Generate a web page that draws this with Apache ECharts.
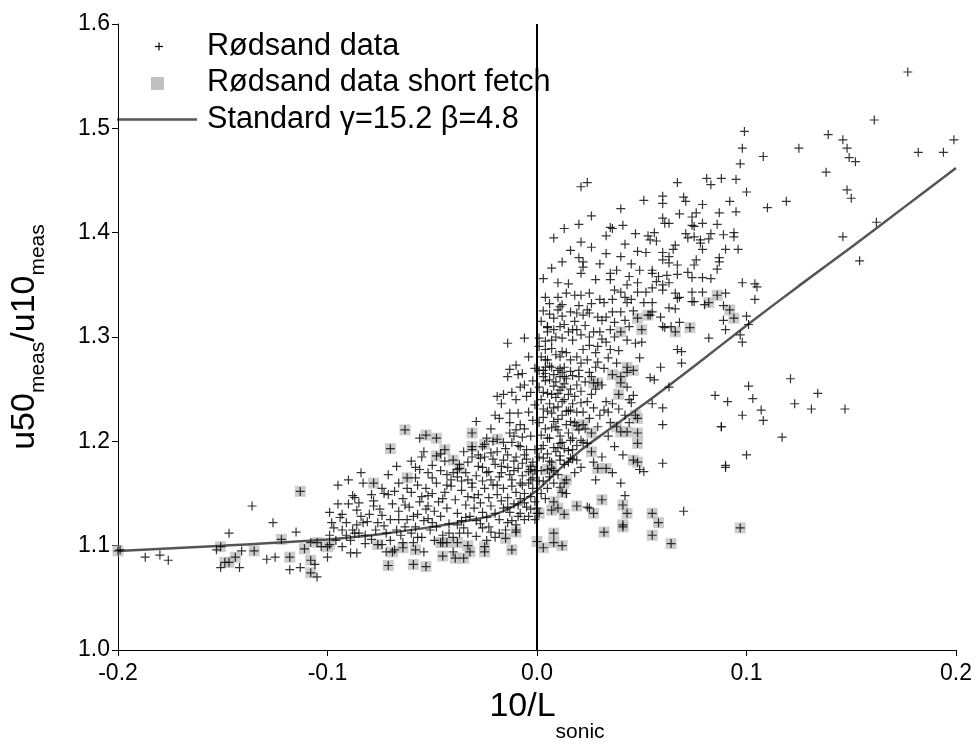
<!DOCTYPE html>
<html><head><meta charset="utf-8">
<script src="https://cdn.jsdelivr.net/npm/echarts@6/dist/echarts.min.js"></script>
<style>html,body{margin:0;padding:0;background:#fff}#c{width:976px;height:753px}</style>
</head><body><div id="c"></div>
<script>
const xTicks = [-0.2, -0.1, 0.0, 0.1, 0.2];
const yTicks = [1.0, 1.1, 1.2, 1.3, 1.4, 1.5, 1.6];
const legendNames = ['Rødsand data', 'Rødsand data short fetch', 'Standard \u03b3=15.2 \u03b2=4.8'];

const standardX = [-0.2,-0.15,-0.1,-0.075,-0.05,-0.03,-0.02,-0.01,0,0.01,0.02,0.03,0.05,0.075,0.1,0.125,0.15,0.175,0.2];
const standardY = [1.095,1.100,1.106,1.111,1.118,1.125,1.130,1.139,1.153,1.172,1.190,1.205,1.234,1.272,1.311,1.349,1.386,1.424,1.462];

const shortFetch = [
[-0.200,1.095],[-0.151,1.099],[-0.149,1.084],[-0.147,1.084],[-0.144,1.089],[-0.135,1.095],[-0.122,1.106],[-0.113,1.152],[-0.118,1.089],[-0.111,1.097],[-0.108,1.086],[-0.108,1.074],[-0.105,1.103],[-0.100,1.099],
[-0.063,1.211],[-0.070,1.193],[-0.053,1.206],[-0.048,1.203],[-0.048,1.186],[-0.062,1.165],[-0.078,1.160],
[-0.071,1.081],[-0.059,1.082],[-0.053,1.080],[-0.099,1.101],[-0.076,1.101],[-0.069,1.094],[-0.064,1.098],[-0.058,1.096],[-0.046,1.103],
[-0.031,1.208],[-0.019,1.202],[-0.025,1.197],[-0.031,1.195],[-0.044,1.192],[-0.040,1.182],[-0.037,1.174],[-0.003,1.173],
[-0.045,1.103],[-0.043,1.103],[-0.038,1.103],[-0.033,1.100],[-0.032,1.094],[-0.039,1.088],[-0.035,1.088],[-0.025,1.099],[-0.025,1.094],[-0.012,1.096],[0.000,1.104],[0.003,1.098],[-0.015,1.107],[-0.010,1.113],[-0.045,1.090],
[0.027,1.256],[0.029,1.256],[0.040,1.256],[0.039,1.245],[0.047,1.225],[0.048,1.222],[0.019,1.215],[0.022,1.216],[0.038,1.214],[0.040,1.209],[0.043,1.209],[0.048,1.208],[0.048,1.198],[0.026,1.208],[0.026,1.190],[0.046,1.182],[0.048,1.180],[0.005,1.173],[0.007,1.174],[0.029,1.174],[0.033,1.174],[0.013,1.160],[0.014,1.163],
[0.012,1.151],[0.008,1.142],[0.007,1.134],[0.010,1.136],[0.001,1.131],[0.013,1.130],[0.019,1.138],[0.027,1.131],[0.031,1.144],[0.041,1.139],[0.043,1.131],[0.055,1.131],[0.058,1.122],[0.032,1.113],[0.041,1.120],[0.041,1.118],[0.055,1.110],[0.064,1.102],[0.008,1.112],[0.008,1.103],[0.012,1.100],[0.097,1.117],
[0.048,1.318],[0.053,1.321],[0.050,1.307],[0.040,1.305],[0.043,1.271],[0.046,1.268],[0.036,1.264],[0.040,1.262],
[0.086,1.340],[0.082,1.333],[0.092,1.326],[0.094,1.318],[0.066,1.305],[0.073,1.309]
];

const rodsand = [
[-0.199,1.096],[-0.187,1.089],[-0.180,1.091],[-0.176,1.086],[-0.153,1.096],[-0.147,1.112],[-0.151,1.079],[-0.142,1.079],[-0.141,1.095],[-0.136,1.138],[-0.129,1.087],[-0.126,1.122],[-0.125,1.089],[-0.115,1.113],[-0.118,1.077],[-0.113,1.079],[-0.106,1.082],[-0.105,1.070],[-0.108,1.103],[-0.103,1.099],[-0.100,1.089],[-0.099,1.132],[-0.098,1.122],[-0.099,1.110],
[-0.088,1.148],[-0.087,1.146],[-0.079,1.149],[-0.073,1.150],[-0.071,1.149],[-0.060,1.151],[-0.085,1.141],[-0.086,1.134],[-0.093,1.130],[-0.078,1.138],[-0.080,1.130],[-0.074,1.129],[-0.081,1.123],[-0.083,1.122],[-0.076,1.122],[-0.093,1.115],[-0.088,1.115],[-0.087,1.112],[-0.085,1.112],[-0.089,1.105],[-0.093,1.099],[-0.082,1.102],[-0.079,1.106],[-0.074,1.101],[-0.072,1.094],[-0.089,1.093],[-0.086,1.093],[-0.068,1.096],[-0.064,1.103],[-0.054,1.094],[-0.059,1.103],
[-0.056,1.203],[-0.055,1.185],[-0.058,1.175],[-0.056,1.173],[-0.050,1.177],[-0.058,1.165],[-0.050,1.165],[-0.074,1.155],
[-0.069,1.140],[-0.066,1.133],[-0.064,1.145],[-0.062,1.125],[-0.061,1.137],[-0.058,1.118],[-0.057,1.130],[-0.056,1.142],[-0.055,1.108],[-0.054,1.124],[-0.053,1.135],[-0.052,1.148],[-0.051,1.115],[-0.067,1.115],[-0.065,1.110],[-0.070,1.125],[-0.072,1.112],[-0.063,1.118],[-0.060,1.112],[-0.096,1.105],[-0.091,1.122],[-0.084,1.128],[-0.077,1.115],[-0.075,1.135],[-0.068,1.152],[-0.066,1.160],[-0.062,1.155],[-0.057,1.158],[-0.053,1.155],[-0.083,1.160],[-0.095,1.140],
[-0.095,1.158],[-0.090,1.163],[-0.084,1.170],[-0.071,1.168],[-0.067,1.176],[-0.060,1.181],[-0.054,1.190],[-0.052,1.170],[-0.046,1.188],
[-0.078,1.143],[-0.073,1.119],[-0.070,1.105],[-0.066,1.125],[-0.063,1.139],[-0.059,1.128],[-0.057,1.108],[-0.055,1.147],[-0.052,1.138],[-0.050,1.122],[-0.097,1.117],[-0.094,1.127],[-0.091,1.110],[-0.086,1.120],[-0.082,1.110],[-0.090,1.140],
[-0.043,1.168],[-0.038,1.166],[-0.038,1.173],[-0.035,1.190],[-0.031,1.192],[-0.031,1.185],[-0.027,1.184],[-0.026,1.195],[-0.021,1.200],[-0.022,1.189],[-0.026,1.175],[-0.024,1.170],[-0.022,1.163],[-0.031,1.160],[-0.033,1.163],[-0.013,1.208],[-0.010,1.211],[-0.007,1.204],[-0.008,1.195],[-0.005,1.192],[-0.010,1.185],[-0.007,1.179],[-0.014,1.175],[-0.018,1.166],[-0.012,1.163],[-0.008,1.160],[-0.003,1.163],[-0.014,1.187],[-0.016,1.182],[-0.029,1.219],[-0.019,1.243],[-0.016,1.245],[-0.006,1.254],[-0.010,1.240],[-0.005,1.243],[-0.017,1.236],[-0.013,1.227],[-0.009,1.227],[-0.020,1.225],[-0.018,1.222],[-0.013,1.218],[-0.008,1.216],
[-0.014,1.294],[-0.006,1.299],[-0.010,1.273],[-0.013,1.269],[-0.009,1.264],[-0.007,1.265],[-0.014,1.262],[0.001,1.299],[0.001,1.291],[0.005,1.309],[0.004,1.278],[0.004,1.271],
[-0.037,1.112],[-0.033,1.112],[-0.026,1.117],[-0.022,1.113],[-0.020,1.108],[-0.015,1.115],[-0.014,1.122],[-0.010,1.120],[-0.010,1.115],[-0.040,1.094],[-0.008,1.131],[-0.004,1.128],[0.000,1.131],[0.000,1.136],[-0.006,1.141],
[-0.047,1.142],[-0.046,1.128],[-0.044,1.151],[-0.043,1.136],[-0.042,1.121],[-0.041,1.157],[-0.039,1.144],[-0.038,1.131],[-0.036,1.153],[-0.036,1.124],[-0.034,1.139],[-0.033,1.147],[-0.032,1.128],[-0.031,1.156],[-0.030,1.136],[-0.029,1.124],[-0.028,1.149],[-0.027,1.141],[-0.026,1.132],[-0.025,1.155],[-0.024,1.127],[-0.023,1.146],[-0.022,1.138],[-0.021,1.158],[-0.020,1.131],[-0.019,1.149],[-0.018,1.125],[-0.017,1.143],[-0.016,1.136],[-0.016,1.155],[-0.014,1.146],[-0.013,1.132],[-0.012,1.157],[-0.011,1.140],[-0.010,1.151],[-0.009,1.128],[-0.008,1.145],[-0.007,1.158],[-0.006,1.150],[-0.005,1.137],[-0.004,1.160],[-0.003,1.147],[-0.002,1.155],[-0.001,1.142],[-0.048,1.118],[-0.045,1.110],[-0.040,1.108],[-0.035,1.117],[-0.029,1.109],[-0.024,1.105],
[-0.048,1.160],[-0.046,1.172],[-0.044,1.181],[-0.041,1.163],[-0.037,1.178],[-0.034,1.170],[-0.029,1.167],[-0.028,1.176],[-0.020,1.178],[-0.019,1.190],[-0.017,1.170],[-0.011,1.172],[-0.009,1.196],[-0.006,1.187],[-0.004,1.171],[-0.002,1.180],[-0.001,1.192],[-0.003,1.205],[-0.012,1.199],[-0.024,1.203],
[-0.028,1.187],[-0.026,1.162],[-0.023,1.171],[-0.021,1.183],[-0.019,1.158],[-0.017,1.176],[-0.015,1.193],[-0.013,1.168],[-0.011,1.181],[-0.009,1.174],[-0.007,1.167],[-0.005,1.183],[-0.003,1.176],[-0.002,1.165],[-0.001,1.172],[-0.016,1.199],[-0.011,1.205],[-0.006,1.212],[-0.002,1.220],[-0.004,1.228],[-0.001,1.235],[-0.003,1.247],[-0.002,1.258],[-0.001,1.270],[-0.004,1.281],[-0.008,1.252],[-0.012,1.247],[-0.022,1.212],[-0.025,1.185],[-0.033,1.180],[-0.036,1.162],[-0.040,1.170],[-0.043,1.158],[-0.045,1.145],[-0.049,1.133],[-0.050,1.150],[-0.052,1.126],[-0.049,1.105],[-0.042,1.112],[-0.038,1.120],[-0.034,1.127],[-0.030,1.146],[-0.027,1.121],[-0.023,1.118],[-0.018,1.112],[-0.014,1.137],[-0.012,1.124],[-0.009,1.139],[-0.006,1.125],[-0.003,1.135],[-0.001,1.125],
[0.001,1.252],[0.002,1.240],[0.003,1.231],[0.004,1.258],[0.005,1.246],[0.006,1.236],[0.007,1.227],[0.008,1.253],[0.009,1.242],[0.010,1.233],[0.011,1.249],[0.012,1.238],[0.013,1.255],[0.014,1.229],[0.015,1.245],[0.017,1.236],[0.016,1.219],[0.010,1.211],
[0.001,1.218],[0.002,1.206],[0.003,1.196],[0.004,1.212],[0.005,1.188],[0.006,1.203],[0.007,1.180],[0.008,1.194],[0.009,1.214],[0.011,1.186],[0.012,1.199],[0.013,1.178],[0.015,1.191],[0.017,1.183],[0.018,1.170],[0.019,1.196],
[0.001,1.185],[0.002,1.172],[0.003,1.162],[0.005,1.155],[0.006,1.166],[0.004,1.145],[0.008,1.160],[0.010,1.168],[0.014,1.150],[0.002,1.150],
[0.001,1.162],[0.002,1.193],[0.003,1.223],[0.003,1.247],[0.004,1.265],[0.005,1.229],[0.005,1.203],[0.006,1.181],[0.006,1.259],[0.007,1.245],[0.007,1.213],[0.008,1.172],[0.008,1.232],[0.009,1.257],[0.009,1.190],[0.010,1.221],[0.010,1.246],[0.011,1.262],[0.011,1.205],[0.012,1.225],[0.012,1.252],[0.013,1.193],[0.013,1.240],[0.014,1.216],[0.014,1.260],[0.015,1.180],[0.015,1.229],[0.016,1.250],[0.016,1.201],[0.017,1.263],[0.018,1.218],[0.018,1.243],[0.019,1.254],[0.019,1.228],[0.020,1.211],[0.020,1.262],[0.021,1.248],[0.022,1.228],[0.023,1.257],[0.023,1.212],[0.024,1.238],[0.025,1.222],[0.026,1.262],[0.027,1.232],[0.028,1.250],[0.029,1.214],
[0.001,1.268],[0.002,1.281],[0.003,1.262],[0.006,1.272],[0.008,1.264],[0.009,1.283],[0.011,1.270],[0.013,1.262],[0.007,1.289],[0.004,1.296],[0.002,1.315],[0.006,1.322],[0.009,1.300],
[0.003,1.325],[0.004,1.338],[0.006,1.332],[0.008,1.318],[0.010,1.338],[0.012,1.320],[0.014,1.342],[0.015,1.305],[0.018,1.315],[0.020,1.330],[0.023,1.311],[0.026,1.332],[0.027,1.305],[0.028,1.285],[0.031,1.298],[0.034,1.280],[0.037,1.300],[0.039,1.287],[0.040,1.343],[0.044,1.310],[0.046,1.325],[0.048,1.352],[0.051,1.333],[0.050,1.295],[0.003,1.356],[0.007,1.366],[0.012,1.372],[0.016,1.383],[0.008,1.395],[0.013,1.404],[0.030,1.370],[0.033,1.380],[0.045,1.370],[0.028,1.355],
[0.030,1.225],[0.035,1.218],[0.037,1.195],[0.039,1.231],[0.041,1.187],[0.044,1.218],[0.044,1.240],[0.034,1.205],[0.031,1.185],[0.036,1.170],[0.040,1.160],[0.027,1.180],
[0.031,1.254],[0.043,1.252],[0.046,1.244],[0.045,1.237],[0.026,1.245],[0.021,1.237],[0.033,1.238],[0.036,1.236],[0.034,1.228],[0.032,1.230],[0.016,1.230],[0.008,1.219],[0.042,1.225],[0.015,1.208],[0.017,1.203],[0.021,1.201],[0.022,1.199],[0.011,1.198],[0.024,1.198],[0.010,1.194],[0.017,1.192],[0.016,1.184],[0.019,1.182],[0.011,1.182],[0.003,1.184],[0.021,1.175],[0.049,1.173],[0.051,1.171],[0.028,1.163],[0.011,1.156],
[0.024,1.137],[0.025,1.136],[0.042,1.148],[0.070,1.133],
[0.022,1.372],[0.022,1.367],[0.021,1.361],[0.035,1.361],[0.038,1.364],[0.044,1.358],[0.049,1.364],[0.010,1.352],[0.015,1.351],[0.035,1.355],[0.043,1.350],[0.037,1.345],[0.048,1.343],[0.052,1.343],[0.018,1.340],[0.021,1.340],[0.025,1.342],[0.030,1.336],[0.032,1.333],[0.036,1.336],[0.042,1.338],[0.043,1.333],[0.045,1.336],[0.012,1.331],[0.011,1.329],[0.010,1.326],[0.016,1.324],[0.019,1.323],[0.022,1.321],[0.025,1.323],[0.024,1.326],[0.029,1.319],[0.031,1.316],[0.033,1.319],[0.036,1.324],[0.040,1.324],[0.037,1.314],[0.042,1.316],[0.005,1.310],[0.008,1.307],[0.011,1.310],[0.013,1.312],[0.005,1.305],[0.017,1.307],[0.019,1.307],[0.007,1.297],[0.012,1.299],[0.017,1.297],[0.021,1.302],[0.025,1.300],[0.030,1.305],[0.035,1.307],[0.025,1.292],[0.029,1.291],[0.022,1.288],[0.033,1.295],[0.035,1.288],[0.043,1.297],[0.047,1.294],[0.012,1.286],[0.014,1.285],[0.011,1.281],[0.004,1.288],[0.019,1.281],[0.016,1.278],[0.021,1.275],[0.024,1.278],[0.029,1.276],[0.032,1.270],[0.038,1.275],[0.049,1.280],[0.005,1.278],[0.007,1.271],[0.010,1.268],[0.003,1.268],[0.013,1.271],[0.012,1.266],[0.016,1.267],[0.020,1.268],[0.025,1.266],[0.028,1.271],[0.043,1.266],
[0.021,1.444],[0.024,1.448],[0.067,1.448],[0.081,1.452],[0.083,1.446],[0.051,1.431],[0.060,1.435],[0.060,1.428],[0.070,1.434],[0.071,1.430],[0.079,1.427],[0.092,1.430],[0.040,1.423],[0.026,1.416],[0.020,1.408],[0.041,1.407],[0.068,1.418],[0.076,1.419],[0.087,1.419],[0.095,1.420],[0.060,1.414],[0.061,1.409],[0.063,1.409],[0.074,1.415],[0.074,1.407],[0.079,1.409],[0.086,1.408],[0.035,1.405],[0.036,1.404],[0.033,1.397],[0.047,1.399],[0.053,1.397],[0.056,1.400],[0.054,1.393],[0.057,1.392],[0.071,1.399],[0.075,1.406],[0.072,1.395],[0.075,1.396],[0.078,1.393],[0.083,1.399],[0.082,1.394],[0.089,1.398],[0.094,1.400],[0.094,1.396],[0.021,1.391],[0.026,1.386],[0.042,1.389],[0.066,1.388],[0.065,1.384],[0.079,1.384],[0.078,1.390],[0.090,1.384],[0.096,1.384],[0.048,1.382],[0.052,1.381],[0.060,1.381],[0.063,1.377],[0.040,1.377],[0.020,1.376],[0.087,1.376],
[0.060,1.374],[0.063,1.371],[0.067,1.369],[0.067,1.360],[0.075,1.369],[0.076,1.374],[0.087,1.372],[0.086,1.365],[0.055,1.364],[0.055,1.361],[0.058,1.358],[0.062,1.359],[0.072,1.362],[0.074,1.357],[0.079,1.357],[0.083,1.356],[0.057,1.353],[0.060,1.350],[0.063,1.352],[0.055,1.347],[0.060,1.345],[0.074,1.343],[0.079,1.343],[0.066,1.342],[0.068,1.338],[0.067,1.337],[0.098,1.352],[0.104,1.351],[0.105,1.348],[0.104,1.336],[0.090,1.342],[0.074,1.334],[0.075,1.334],[0.080,1.331],[0.089,1.330],[0.063,1.328],[0.066,1.327],[0.055,1.333],[0.055,1.324],[0.054,1.321],[0.059,1.319],[0.089,1.316],[0.100,1.320],[0.068,1.314],[0.060,1.310],[0.061,1.309],[0.064,1.310],[0.090,1.307],[0.101,1.312],[0.082,1.299],[0.097,1.302],[0.098,1.295],[0.067,1.288],[0.069,1.286],[0.069,1.275],[0.059,1.271],[0.054,1.261],[0.056,1.259],[0.063,1.252],[0.101,1.253],[0.085,1.244],[0.091,1.238],[0.103,1.241],[0.055,1.236],[0.060,1.232],[0.060,1.216],[0.088,1.214],[0.060,1.179],[0.090,1.177],
[0.177,1.554],[0.161,1.508],[0.182,1.477],[0.194,1.477],[0.199,1.489],[0.099,1.497],[0.098,1.481],[0.108,1.473],[0.125,1.481],[0.139,1.494],[0.146,1.489],[0.148,1.481],[0.149,1.472],[0.152,1.468],[0.138,1.458],[0.148,1.441],[0.150,1.433],[0.154,1.373],[0.146,1.396],[0.162,1.410],[0.119,1.430],[0.110,1.424],[0.100,1.439],[0.095,1.451],[0.088,1.452],[0.097,1.466],
[0.147,1.231],[0.134,1.246],[0.131,1.231],[0.121,1.260],[0.117,1.204],[0.123,1.236],[0.107,1.230],[0.108,1.220],[0.098,1.225],[0.100,1.187],[0.090,1.175],[0.088,1.214]
];

const standard = standardX.map((x, i) => [x, standardY[i]]);
const allCrosses = rodsand.concat(shortFetch);

const FONT = '"Liberation Sans", Arial, Helvetica, sans-serif';
const chart = echarts.init(document.getElementById('c'));
const crossPath = 'path://M5,0L5,10M0,5L10,5';

function titleRich(subPad) {
  return {
    a: { fontFamily: FONT, fontSize: 34, lineHeight: 38, verticalAlign: 'top', fill: '#000' },
    s: { fontFamily: FONT, fontSize: 21, lineHeight: 22, verticalAlign: 'top', padding: [subPad, 0, 0, 0], fill: '#000' }
  };
}

chart.setOption({
  animation: false,
  backgroundColor: '#fff',
  grid: { left: 118, right: 20, top: 24, bottom: 103, containLabel: false },
  xAxis: {
    type: 'value', min: -0.2, max: 0.2, interval: 0.1,
    axisLine: { show: true, onZero: false, lineStyle: { color: '#000', width: 1 } },
    axisTick: { show: true, inside: false, length: 6, lineStyle: { color: '#000' } },
    splitLine: { show: false },
    axisLabel: { fontFamily: FONT, fontSize: 23, color: '#000', margin: 12,
      formatter: v => (Math.abs(v) < 1e-9 ? 0 : v).toFixed(1) }
  },
  yAxis: {
    type: 'value', min: 1.0, max: 1.6, interval: 0.1,
    axisLine: { show: true, onZero: false, lineStyle: { color: '#000', width: 1 } },
    axisTick: { show: true, inside: false, length: 6, lineStyle: { color: '#000' } },
    splitLine: { show: false },
    axisLabel: { fontFamily: FONT, fontSize: 23, color: '#000', margin: 8,
      formatter: v => v.toFixed(1) }
  },
  series: [
    {
      name: legendNames[1], type: 'scatter', data: shortFetch, symbol: 'rect', symbolSize: 11,
      itemStyle: { color: '#c0c0c0' }, z: 1, silent: true
    },
    {
      name: legendNames[2], type: 'line', data: standard, showSymbol: false, symbol: 'none', smooth: 0.3,
      lineStyle: { color: '#555', width: 2.5 }, z: 2, silent: true,
      markLine: { silent: true, symbol: 'none', label: { show: false },
        lineStyle: { color: '#000', width: 2, type: 'solid' }, data: [{ xAxis: 0 }] }
    },
    {
      name: legendNames[0], type: 'scatter', data: allCrosses, symbol: crossPath, symbolSize: 9,
      itemStyle: { color: 'rgba(0,0,0,0)', borderColor: '#000', borderWidth: 1.2 }, z: 3, silent: true
    }
  ],
  graphic: [
    { type: 'line', shape: { x1: 155, y1: 46.5, x2: 163, y2: 46.5 }, style: { stroke: '#000', lineWidth: 1.2 } },
    { type: 'line', shape: { x1: 159, y1: 42.5, x2: 159, y2: 50.5 }, style: { stroke: '#000', lineWidth: 1.2 } },
    { type: 'rect', shape: { x: 151, y: 77, width: 13, height: 13 }, style: { fill: '#c0c0c0' } },
    { type: 'line', shape: { x1: 117, y1: 119.5, x2: 197, y2: 119.5 }, style: { stroke: '#555', lineWidth: 2.5 } },
    { type: 'text', x: 207, y: 46.5, style: { text: legendNames[0], font: '30.6px ' + FONT, fill: '#000', verticalAlign: 'middle' } },
    { type: 'text', x: 207, y: 83, style: { text: legendNames[1], font: '30.6px ' + FONT, fill: '#000', verticalAlign: 'middle' } },
    { type: 'text', x: 207, y: 119.5, style: { text: legendNames[2], font: '30.6px ' + FONT, fill: '#000', verticalAlign: 'middle' } },
    { type: 'text', x: 547, y: 690,
      style: { text: '{a|10/L}{s|sonic}', align: 'center', verticalAlign: 'top', rich: titleRich(32) } },
    { type: 'text', x: 8, y: 337, rotation: Math.PI / 2,
      style: { text: '{a|u50}{s|meas}{a|/u10}{s|meas}', align: 'center', verticalAlign: 'top', rich: titleRich(20) } }
  ]
});
</script>
</body></html>
